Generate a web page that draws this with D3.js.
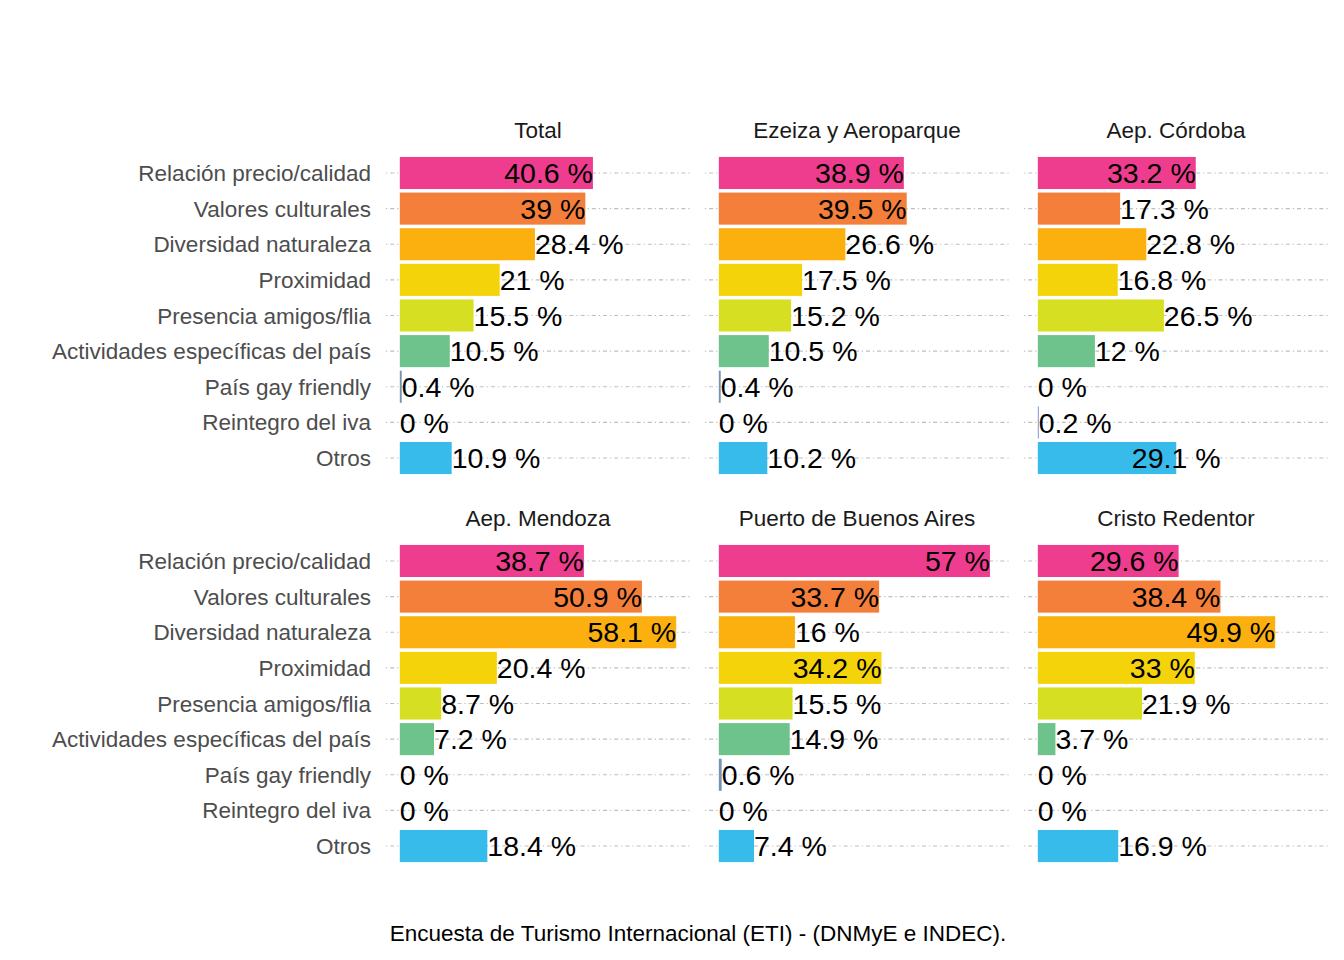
<!DOCTYPE html>
<html>
<head>
<meta charset="utf-8">
<script src="https://cdn.jsdelivr.net/npm/d3@7"></script>
<style>
  html, body { margin: 0; padding: 0; background: #fff; }
  svg { display: block; font-family: "Liberation Sans", Arial, sans-serif; }
</style>
</head>
<body>
<svg id="chart" width="1344" height="960"></svg>
<script>
// ---- data ----
const categories = [
  "Relación precio/calidad",
  "Valores culturales",
  "Diversidad naturaleza",
  "Proximidad",
  "Presencia amigos/flia",
  "Actividades específicas del país",
  "País gay friendly",
  "Reintegro del iva",
  "Otros"
];
const panels = ["Total", "Ezeiza y Aeroparque", "Aep. Córdoba", "Aep. Mendoza", "Puerto de Buenos Aires", "Cristo Redentor"];
const valuesTotal     = [40.6, 39, 28.4, 21, 15.5, 10.5, 0.4, 0, 10.9];
const valuesEzeiza    = [38.9, 39.5, 26.6, 17.5, 15.2, 10.5, 0.4, 0, 10.2];
const valuesCordoba   = [33.2, 17.3, 22.8, 16.8, 26.5, 12, 0, 0.2, 29.1];
const valuesMendoza   = [38.7, 50.9, 58.1, 20.4, 8.7, 7.2, 0, 0, 18.4];
const valuesPuerto    = [57, 33.7, 16, 34.2, 15.5, 14.9, 0.6, 0, 7.4];
const valuesCristo    = [29.6, 38.4, 49.9, 33, 21.9, 3.7, 0, 0, 16.9];
const colors = ["#EE3D8E", "#F47F3B", "#FBB010", "#F4D30A", "#D7DF22", "#6EC28B", "#7494B4", "#7B8FD0", "#37BBEB"];
const caption = "Encuesta de Turismo Internacional (ETI) - (DNMyE e INDEC).";

const panelValues = [valuesTotal, valuesEzeiza, valuesCordoba, valuesMendoza, valuesPuerto, valuesCristo];

// ---- layout ----
const svg = d3.select("#chart");
const panelW = 304, gapX = 15, left0 = 386;
const panelTops = [151.6, 539.6], panelH = 327.8;

const maxV = d3.max(panelValues.flat());
const expand = maxV * 0.05;
const xDomain = [-expand, maxV + expand];

const color = d3.scaleOrdinal().domain(categories).range(colors);

panels.forEach((name, p) => {
  const col = p % 3, row = Math.floor(p / 3);
  const x0 = left0 + col * (panelW + gapX);
  const y0 = panelTops[row];
  const x = d3.scaleLinear().domain(xDomain).range([x0, x0 + panelW]);
  const y = d3.scaleBand().domain(categories).range([y0, y0 + panelH])
    .paddingInner(0.1).paddingOuter(0.15);
  const g = svg.append("g");

  // gridlines
  g.selectAll("line.grid").data(categories).join("line")
    .attr("x1", x0).attr("x2", x0 + panelW)
    .attr("y1", d => y(d) + y.bandwidth() / 2)
    .attr("y2", d => y(d) + y.bandwidth() / 2)
    .attr("stroke", "#BEBEBE").attr("stroke-width", 1.1)
    .attr("stroke-dasharray", "1.2 3 4 3");

  const data = categories.map((c, i) => ({ c, v: panelValues[p][i] }));

  // bars
  g.selectAll("rect").data(data).join("rect")
    .attr("x", x(0))
    .attr("y", d => y(d.c))
    .attr("width", d => x(d.v) - x(0))
    .attr("height", y.bandwidth())
    .attr("fill", d => color(d.c));

  // value labels (inward justification)
  const mid = (xDomain[0] + xDomain[1]) / 2;
  const tol = 0.001 * (xDomain[1] - xDomain[0]);
  g.selectAll("text.val").data(data).join("text")
    .attr("class", "val")
    .attr("x", d => x(d.v))
    .attr("y", d => y(d.c) + y.bandwidth() / 2)
    .attr("dy", "0.36em")
    .attr("text-anchor", d => d.v < mid - tol ? "start" : (d.v > mid + tol ? "end" : "middle"))
    .attr("font-size", 28.5)
    .attr("fill", "#000")
    .text(d => d.v + " %");

  // strip title
  svg.append("text")
    .attr("x", x0 + panelW / 2)
    .attr("y", y0 - 21.5)
    .attr("dy", "0.36em")
    .attr("text-anchor", "middle")
    .attr("font-size", 22.5)
    .attr("fill", "#1A1A1A")
    .text(name);

  // y axis labels (only on first column)
  if (col === 0) {
    g.selectAll("text.ylab").data(categories).join("text")
      .attr("x", 371)
      .attr("y", d => y(d) + y.bandwidth() / 2)
      .attr("dy", "0.36em")
      .attr("text-anchor", "end")
      .attr("font-size", 22.5)
      .attr("fill", "#4D4D4D")
      .text(d => d);
  }
});

svg.append("text")
  .attr("x", 698).attr("y", 933).attr("dy", "0.36em")
  .attr("text-anchor", "middle")
  .attr("font-size", 22.5)
  .attr("fill", "#000")
  .text(caption);
</script>
</body>
</html>
